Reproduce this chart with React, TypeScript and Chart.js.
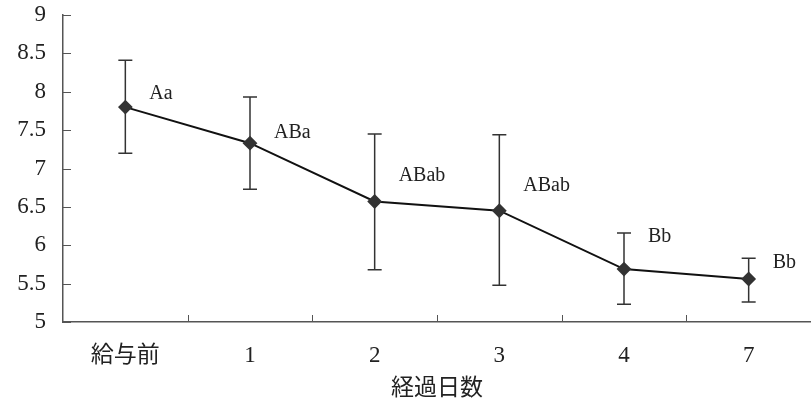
import React, { useEffect, useRef } from 'react';
import { Chart, registerables } from 'chart.js';

Chart.register(...registerables);

const categories = ['給与前', '1', '2', '3', '4', '7'];
const means = [7.8, 7.33, 6.57, 6.45, 5.69, 5.56];
const upper = [8.41, 7.93, 7.45, 7.44, 6.16, 5.83];
const lower = [7.2, 6.73, 5.68, 5.48, 5.23, 5.26];
const groupLabels = ['Aa', 'ABa', 'ABab', 'ABab', 'Bb', 'Bb'];
const groupLabelY = [7.98, 7.46, 6.9, 6.77, 6.11, 5.77];
const xTitle = '経過日数';

const SERIF = "'Liberation Serif', 'Noto Sans CJK JP', serif";

const overlayPlugin = {
  id: 'overlay',
  beforeDatasetsDraw(chart: any) {
    const { ctx, scales, chartArea } = chart;
    const x = scales.x;
    const y = scales.y;
    ctx.save();
    ctx.strokeStyle = '#555';
    ctx.lineWidth = 1;
    y.ticks.forEach((t: any) => {
      const py = Math.round(y.getPixelForValue(t.value)) + 0.5;
      ctx.beginPath();
      ctx.moveTo(chartArea.left, py);
      ctx.lineTo(chartArea.left + 8, py);
      ctx.stroke();
    });
    for (let i = 1; i < categories.length; i++) {
      const px = Math.round((x.getPixelForValue(i - 1) + x.getPixelForValue(i)) / 2) + 0.5;
      ctx.beginPath();
      ctx.moveTo(px, chartArea.bottom);
      ctx.lineTo(px, chartArea.bottom - 7);
      ctx.stroke();
    }
    ctx.strokeStyle = '#333';
    ctx.lineWidth = 1.5;
    for (let i = 0; i < means.length; i++) {
      const px = x.getPixelForValue(i);
      const top = y.getPixelForValue(upper[i]);
      const bot = y.getPixelForValue(lower[i]);
      ctx.beginPath();
      ctx.moveTo(px, top);
      ctx.lineTo(px, bot);
      ctx.moveTo(px - 7, top);
      ctx.lineTo(px + 7, top);
      ctx.moveTo(px - 7, bot);
      ctx.lineTo(px + 7, bot);
      ctx.stroke();
    }
    ctx.restore();
  },
  afterDatasetsDraw(chart: any) {
    const { ctx, scales } = chart;
    const x = scales.x;
    const y = scales.y;
    ctx.save();
    ctx.fillStyle = '#222';
    ctx.font = `20px ${SERIF}`;
    ctx.textAlign = 'left';
    ctx.textBaseline = 'middle';
    for (let i = 0; i < groupLabels.length; i++) {
      ctx.fillText(groupLabels[i], x.getPixelForValue(i) + 24, y.getPixelForValue(groupLabelY[i]));
    }
    ctx.restore();
  },
};

export default function App() {
  const ref = useRef<HTMLCanvasElement>(null);
  useEffect(() => {
    document.body.style.margin = '0';
    const chart = new Chart(ref.current!, {
      type: 'line',
      data: {
        labels: categories,
        datasets: [
          {
            data: means,
            borderColor: '#111',
            borderWidth: 2,
            pointStyle: 'rectRot',
            pointRadius: 6,
            pointBackgroundColor: '#333',
            pointBorderColor: '#333',
            tension: 0,
          },
        ],
      },
      options: {
        animation: false,
        responsive: false,
        maintainAspectRatio: false,
        layout: { padding: 0 },
        plugins: { legend: { display: false }, tooltip: { enabled: false } },
        scales: {
          x: {
            offset: true,
            grid: { display: false, drawTicks: false },
            border: { display: true, color: '#555', width: 1.5 },
            ticks: { color: '#222', font: { family: SERIF, size: 23 }, padding: 20 },
            title: {
              display: true,
              text: xTitle,
              color: '#222',
              font: { family: SERIF, size: 23 },
              padding: { top: 4, bottom: 1 },
            },
            afterFit: (s: any) => {
              s.height = 82;
              s.paddingLeft = 0;
              s.paddingRight = 0;
            },
          },
          y: {
            min: 5,
            max: 9,
            grid: { display: false, drawTicks: false },
            border: { display: true, color: '#555', width: 1.5 },
            ticks: {
              stepSize: 0.5,
              color: '#222',
              font: { family: SERIF, size: 23 },
              padding: 17,
              callback: (v: any) => String(Number(v)),
            },
            afterFit: (s: any) => {
              s.width = 63;
              s.paddingTop = 15;
              s.paddingBottom = 0;
            },
          },
        },
      },
      plugins: [overlayPlugin],
    });
    return () => chart.destroy();
  }, []);
  return (
    <div style={{ width: 811, height: 404, overflow: 'hidden' }}>
      <canvas ref={ref} width={819} height={404} style={{ display: 'block' }} />
    </div>
  );
}
